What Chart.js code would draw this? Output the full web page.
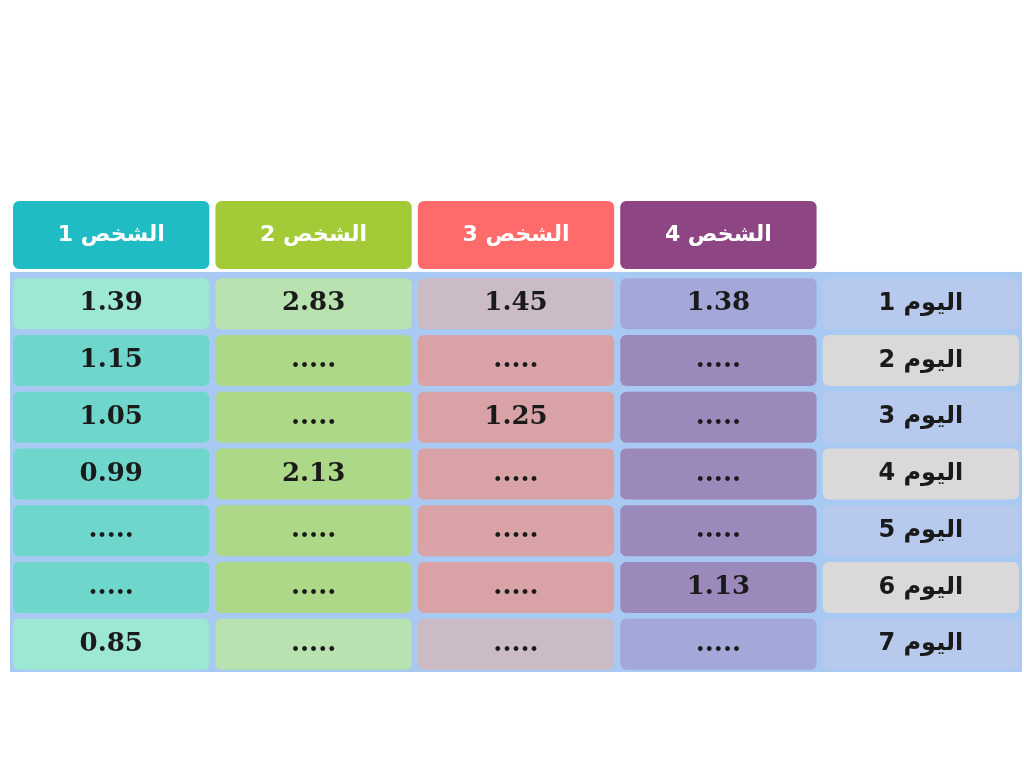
<!DOCTYPE html>
<html><head><meta charset="utf-8">
<script src="https://cdn.jsdelivr.net/npm/chart.js@4.4.1/dist/chart.umd.min.js"></script>
<style>html,body{margin:0;background:#fff}#wrap{width:1024px;height:768px}</style>
</head><body><div id="wrap"><canvas id="c"></canvas></div>
<script>
const persons = ['الشخص 1', 'الشخص 2', 'الشخص 3', 'الشخص 4'];
const days = ['اليوم 1', 'اليوم 2', 'اليوم 3', 'اليوم 4', 'اليوم 5', 'اليوم 6', 'اليوم 7'];
const person1 = ['1.39', '1.15', '1.05', '0.99', '.....', '.....', '0.85'];
const person2 = ['2.83', '.....', '.....', '2.13', '.....', '.....', '.....'];
const person3 = ['1.45', '.....', '1.25', '.....', '.....', '.....', '.....'];
const person4 = ['1.38', '.....', '.....', '.....', '.....', '1.13', '.....'];
const table = [person1, person2, person3, person4];

const headColors = ['#1fbcc4', '#a3cb37', '#fe6b6a', '#8d4584'];
const cellColors = ['#6fd6cb', '#acd888', '#d8a2a6', '#9c89bc'];
const edgeColors = ['#9ce8d4', '#b8e2b0', '#cbbbc6', '#a3a8d8'];
const dayColors = ['#b7c9ec', '#d9d9d9'];

const datasets = [];
datasets.push({
  data: persons.map(() => [-1.3, -0.1]).concat([null]),
  backgroundColor: headColors.concat(['#fff']),
  labels: persons.concat(['']), kind: 'head'
});
days.forEach((d, i) => {
  const edge = i === 0 || i === days.length - 1;
  datasets.push({
    data: table.map(() => [i + 0.06, i + 0.96]).concat([[i + 0.06, i + 0.96]]),
    backgroundColor: (edge ? edgeColors : cellColors).concat([dayColors[i % 2]]),
    labels: table.map(col => col[i]).concat([d]), kind: 'cell'
  });
});
datasets.forEach(ds => { ds.grouped = false; ds.borderRadius = 6; ds.borderSkipped = false; });

const backPlate = {
  id: 'backPlate',
  beforeDatasetsDraw(chart) {
    const {ctx, scales: {x, y}} = chart;
    ctx.save();
    ctx.fillStyle = '#a8c9f2';
    ctx.fillRect(x.left, y.getPixelForValue(-0.05), x.right - x.left, y.getPixelForValue(7) - y.getPixelForValue(-0.05));
    ctx.restore();
  }
};
const cellText = {
  id: 'cellText',
  afterDatasetsDraw(chart) {
    const ctx = chart.ctx;
    ctx.save();
    ctx.textAlign = 'center'; ctx.textBaseline = 'middle';
    chart.data.datasets.forEach((ds, di) => {
      chart.getDatasetMeta(di).data.forEach((el, j) => {
        const t = ds.labels[j];
        if (!t || ds.data[j] == null) return;
        const cy = (el.y + el.base) / 2;
        if (ds.kind === 'head') {
          ctx.fillStyle = '#fff'; ctx.font = 'bold 22px "DejaVu Sans"';
          ctx.direction = 'rtl';
        } else if (j === 4) {
          ctx.fillStyle = '#1a1a1a'; ctx.font = 'bold 24px "DejaVu Sans"';
          ctx.direction = 'rtl';
        } else {
          ctx.fillStyle = '#1a1a1a'; ctx.font = 'bold 26px "DejaVu Serif"';
          ctx.direction = 'ltr';
        }
        ctx.fillText(t, el.x, cy);
      });
    });
    ctx.restore();
  }
};

new Chart(document.getElementById('c'), {
  type: 'bar',
  data: { labels: persons.concat(['']), datasets },
  options: {
    responsive: true, maintainAspectRatio: false, animation: false,
    layout: { padding: { left: 10, right: 2, top: 201, bottom: 96 } },
    datasets: { bar: { barPercentage: 0.97, categoryPercentage: 1 } },
    plugins: { legend: { display: false }, tooltip: { enabled: false } },
    scales: {
      x: { display: false },
      y: { display: false, reverse: true, min: -1.3, max: 7 }
    }
  },
  plugins: [backPlate, cellText]
});
</script></body></html>
